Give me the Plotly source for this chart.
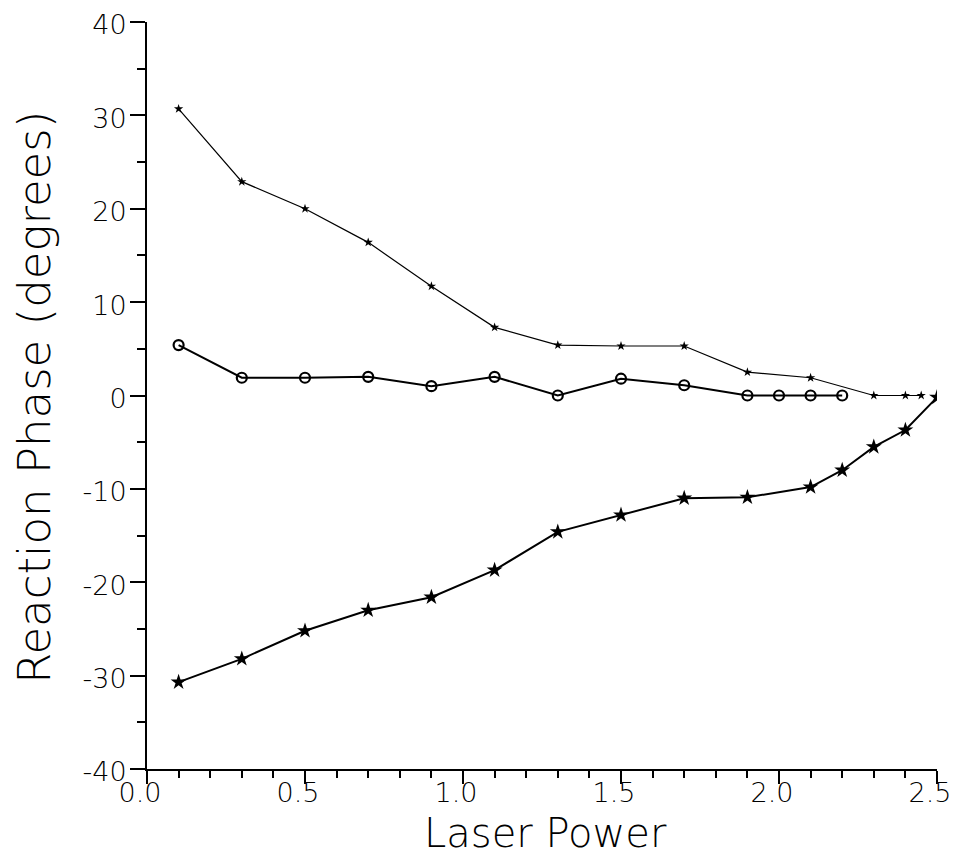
import plotly.graph_objects as go

# Series 1 (plus markers)
x_plus = [0.1, 0.3, 0.5, 0.7, 0.9, 1.1, 1.3, 1.5, 1.7, 1.9, 2.1, 2.3, 2.4, 2.45]
y_plus = [30.7, 22.9, 20.0, 16.4, 11.7, 7.3, 5.4, 5.3, 5.3, 2.5, 1.9, 0.0, 0.0, 0.0]

# Series 2 (open circles)
x_circ = [0.1, 0.3, 0.5, 0.7, 0.9, 1.1, 1.3, 1.5, 1.7, 1.9, 2.0, 2.1, 2.2]
y_circ = [5.4, 1.9, 1.9, 2.0, 1.0, 2.0, 0.0, 1.8, 1.1, 0.0, 0.0, 0.0, 0.0]

# Series 3 (stars)
x_star = [0.1, 0.3, 0.5, 0.7, 0.9, 1.1, 1.3, 1.5, 1.7, 1.9, 2.1, 2.2, 2.3, 2.4, 2.5]
y_star = [-30.7, -28.2, -25.2, -23.0, -21.6, -18.7, -14.6, -12.8, -11.0, -10.9, -9.8, -8.0, -5.5, -3.7, -0.2]

x_ticks = [0.0, 0.5, 1.0, 1.5, 2.0, 2.5]
x_labels = ["0.0", "0.5", "1.0", "1.5", "2.0", "2.5"]
y_ticks = [-40, -30, -20, -10, 0, 10, 20, 30, 40]
y_labels = ["-40", "-30", "-20", "-10", "0", "10", "20", "30", "40"]

x_title = "Laser Power"
y_title = "Reaction Phase (degrees)"

fig = go.Figure()
fig.add_trace(go.Scatter(x=x_plus, y=y_plus, mode="lines+markers",
                         line=dict(color="black", width=1.2),
                         marker=dict(symbol="star", size=7, color="black")))
fig.add_trace(go.Scatter(x=x_circ, y=y_circ, mode="lines+markers",
                         line=dict(color="black", width=2),
                         marker=dict(symbol="circle-open", size=10, color="black",
                                     line=dict(width=2.2, color="black"))))
fig.add_trace(go.Scatter(x=x_star, y=y_star, mode="lines+markers",
                         line=dict(color="black", width=2),
                         marker=dict(symbol="star", size=12, color="black")))

font_family = "DejaVu Sans"
W = 200
fig.update_layout(
    width=949, height=847,
    margin=dict(l=139, r=20, t=14, b=86),
    paper_bgcolor="white", plot_bgcolor="white",
    showlegend=False,
    font=dict(family=font_family, color="black", weight=W),
    xaxis=dict(range=[0, 2.5], tickvals=x_ticks, ticktext=x_labels, automargin=False,
               showgrid=False, zeroline=False, showline=True, linecolor="black", linewidth=2,
               ticks="outside", ticklen=13, tickwidth=1.5, tickcolor="black",
               ticklabelstandoff=-14, ticklabelshift=-7, ticklabeloverflow="allow",
               tickfont=dict(size=27, family=font_family, weight=W, color="black"),
               minor=dict(dtick=0.1, ticks="outside", ticklen=7, tickwidth=1.5, tickcolor="black")),
    yaxis=dict(range=[-40, 40], tickvals=y_ticks, ticktext=y_labels, automargin=False,
               showgrid=False, zeroline=False, showline=True, linecolor="black", linewidth=2,
               ticks="outside", ticklen=15, tickwidth=1.5, tickcolor="black",
               ticklabelstandoff=-2, ticklabelshift=3, ticklabeloverflow="allow",
               tickfont=dict(size=27, family=font_family, weight=W, color="black"),
               minor=dict(dtick=5, ticks="outside", ticklen=8, tickwidth=1.5, tickcolor="black")),
    annotations=[
        dict(text=x_title, xref="paper", yref="paper", x=0.505, y=-0.0857,
             xanchor="center", yanchor="middle", showarrow=False,
             font=dict(size=40, family=font_family, weight=W, color="black")),
        dict(text=y_title, xref="paper", yref="paper", x=-0.142, y=0.498,
             xanchor="center", yanchor="middle", showarrow=False, textangle=-90,
             font=dict(size=45, family=font_family, weight=W, color="black")),
    ],
)

fig.write_html("out.html")
